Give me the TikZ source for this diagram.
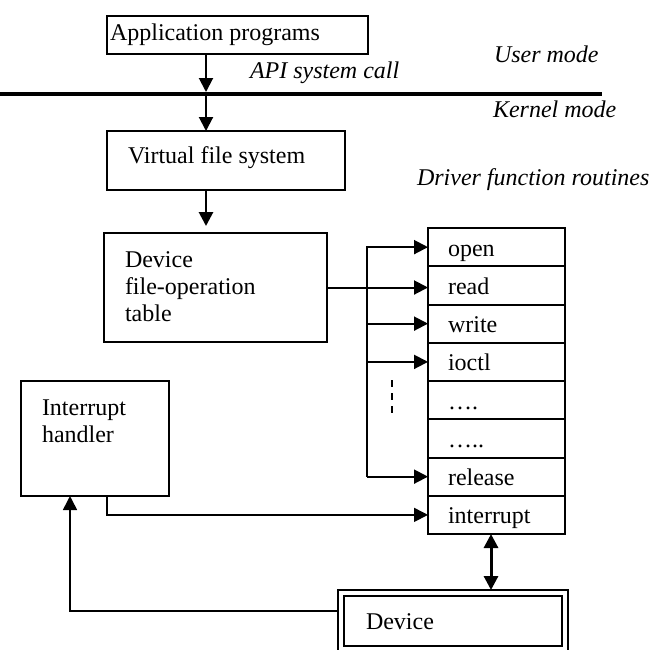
\documentclass[tikz,border=0pt]{standalone}
\usepackage{fontspec}
\setmainfont{Liberation Serif}
\usetikzlibrary{arrows.meta,calc}
\begin{document}
\begin{tikzpicture}[x=0.5pt,y=-0.5pt,
  font=\fontsize{12}{14}\selectfont,
  box/.style={draw, line width=1pt, inner sep=0pt, outer sep=0pt, anchor=north west},
  rowbox/.style={box, minimum width=68.5pt, minimum height=19.125pt},
  txt/.style={anchor=base west, inner sep=0pt, outer sep=0pt},
  itx/.style={txt, font=\fontsize{12}{14}\selectfont\itshape},
  arr/.style={line width=1pt, -{Triangle[length=7pt,width=7pt]}},
  dblarr/.style={line width=1.5pt, {Triangle[length=7pt,width=7pt]}-{Triangle[length=7pt,width=7pt]}}]
\useasboundingbox (0,0) rectangle (656,649);
\clip (0,0) rectangle (656,649);

% boxes
\node[box, minimum width=130.5pt, minimum height=19pt] (app) at (107,16) {};
\node[box, minimum width=119pt, minimum height=29.5pt] (vfs) at (107,131) {};
\node[box, minimum width=111.5pt, minimum height=54.5pt] (tab) at (104,233) {};
\node[box, minimum width=74pt, minimum height=57.5pt] (ih) at (21,381) {};
\foreach \i in {1,...,8}
  \node[rowbox] (r\i) at (428,{228+38.25*(\i-1)}) {};
\node[box, line width=1.2pt, minimum width=115pt, minimum height=35pt] (devout) at (338,590) {};
\node[box, line width=1.2pt, minimum width=109pt, minimum height=25pt] (devin) at (344,596) {};

% texts
\node[txt] (tapp) at (110,40) {Application programs};
\node[itx] (tapi) at (250,78) {API system call};
\node[itx] (tuser) at (494,62) {User mode};
\node[itx] (tkern) at (493,117) {Kernel mode};
\node[itx] (tdrv) at (417,185) {Driver function routines};
\node[txt] (tvfs) at (128,163) {Virtual file system};
\node[txt] (ttab1) at (125,267) {Device};
\node[txt] (ttab2) at (125,294) {file-operation};
\node[txt] (ttab3) at (125,321) {table};
\node[txt] (tih1) at (42,415) {Interrupt};
\node[txt] (tih2) at (42,442) {handler};
\node[txt] (tdev) at (366,629) {Device};
\foreach \i/\t in {1/open,2/read,3/write,4/ioctl,5/….,6/…..,7/release,8/interrupt}
  \node[txt] (t\i) at ($(r\i.north west)+(20,28)$) {\t};

% helper coordinates
\coordinate (kx) at (206,0);
\coordinate (hl1) at (0,94);
\coordinate (hl2) at (602,94);
\coordinate (bus) at (367,0);
\coordinate (ihx) at (107,0);
\coordinate (upx) at (70,0);
\coordinate (dy) at (0,611);
\coordinate (dx) at (491,0);
\coordinate (dash1) at (392,380);
\coordinate (dash2) at (392,414);

% kernel/user line
\draw[line width=2pt] (hl1) -- (hl2);

% connectors
\draw[arr, shorten >=1pt] (app.south -| kx) -- (hl1 -| kx);
\draw[arr] (hl1 -| kx) -- (vfs.north -| kx);
\draw[arr, line width=1.4pt, shorten >=3.5pt] (vfs.south -| kx) -- (tab.north -| kx);
\draw[arr] (tab.east) -- (tab.east -| r2.west);
\draw[arr] (bus |- r7.west) -- (bus |- r1.west) -- (r1.west);
\draw[arr] (bus |- r3.west) -- (r3.west);
\draw[arr] (bus |- r4.west) -- (r4.west);
\draw[arr] (bus |- r7.west) -- (r7.west);
\draw[line width=1pt, dash pattern=on 3.5pt off 3pt] (dash1) -- (dash2);
\draw[arr, line width=0.8pt] (ih.south -| ihx) |- (r8.west);
\draw[arr, line width=0.8pt] (devout.west |- dy) -| (ih.south -| upx);
\draw[dblarr] (r8.south -| dx) -- (devout.north -| dx);
\end{tikzpicture}
\end{document}
